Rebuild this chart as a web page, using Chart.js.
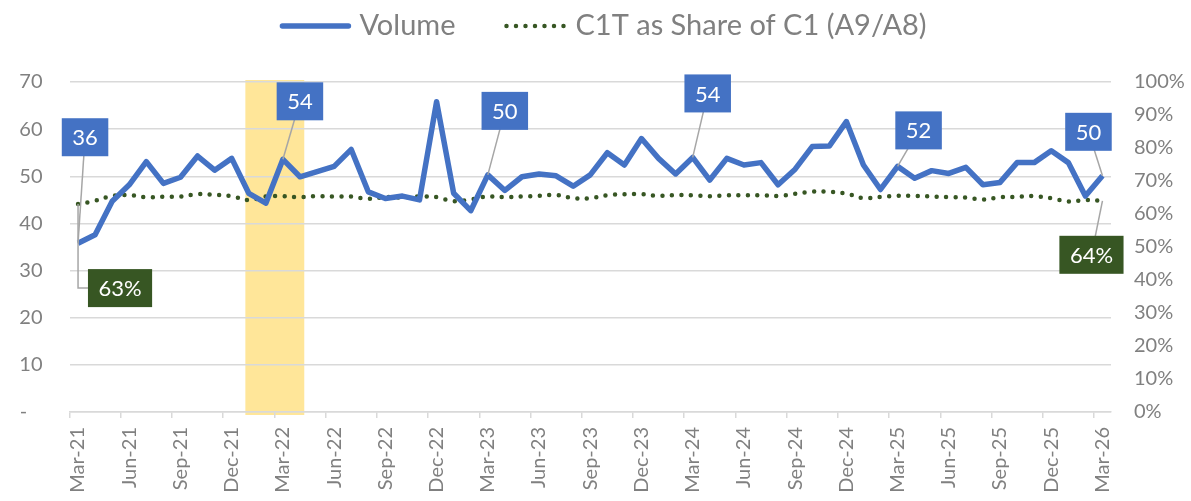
<!DOCTYPE html>
<html>
<head>
<meta charset="utf-8">
<script src="https://cdn.jsdelivr.net/npm/chart.js@4.4.1/dist/chart.umd.min.js"></script>
<style>
  html, body { margin: 0; padding: 0; background: #ffffff; }
</style>
</head>
<body>
<canvas id="myChart" width="1191" height="501"></canvas>
<script>
// monthly categories, Mar-21 .. Mar-26
const months = [
  'Mar-21','Apr-21','May-21','Jun-21','Jul-21','Aug-21','Sep-21','Oct-21','Nov-21','Dec-21','Jan-22','Feb-22',
  'Mar-22','Apr-22','May-22','Jun-22','Jul-22','Aug-22','Sep-22','Oct-22','Nov-22','Dec-22','Jan-23','Feb-23',
  'Mar-23','Apr-23','May-23','Jun-23','Jul-23','Aug-23','Sep-23','Oct-23','Nov-23','Dec-23','Jan-24','Feb-24',
  'Mar-24','Apr-24','May-24','Jun-24','Jul-24','Aug-24','Sep-24','Oct-24','Nov-24','Dec-24','Jan-25','Feb-25',
  'Mar-25','Apr-25','May-25','Jun-25','Jul-25','Aug-25','Sep-25','Oct-25','Nov-25','Dec-25','Jan-26','Feb-26',
  'Mar-26'
];

const volume = [
  35.8, 37.6, 44.7, 48.2, 53.1, 48.5, 49.8, 54.3, 51.3, 53.8, 46.4, 44.3,
  53.6, 49.9, 51.0, 52.1, 55.7, 46.7, 45.3, 45.8, 45.0, 65.8, 46.4, 42.7,
  50.3, 47.0, 49.9, 50.5, 50.1, 47.9, 50.3, 55.0, 52.4, 58.0, 53.8, 50.5,
  54.0, 49.2, 53.8, 52.4, 52.9, 48.2, 51.5, 56.3, 56.4, 61.6, 52.4, 47.2,
  52.1, 49.6, 51.2, 50.6, 51.9, 48.2, 48.7, 52.9, 52.9, 55.4, 52.9, 45.8,
  50.1
];

// C1T as share of C1, in percent
const share = [
  63.0, 64.0, 65.5, 65.7, 65.1, 65.2, 65.3, 66.0, 65.8, 65.4, 64.2, 65.3,
  65.4, 65.1, 65.4, 65.3, 65.3, 64.6, 65.1, 65.0, 65.3, 65.1, 63.9, 64.4,
  65.3, 65.1, 65.3, 65.5, 65.8, 64.8, 64.8, 65.7, 66.0, 66.0, 65.5, 65.7,
  65.7, 65.4, 65.7, 65.7, 65.7, 65.5, 66.1, 66.8, 66.7, 66.2, 64.8, 65.2,
  65.5, 65.5, 65.3, 65.1, 65.0, 64.4, 65.1, 65.2, 65.4, 64.8, 63.8, 64.2,
  64.0
];

const volumeTicks = [0, 10, 20, 30, 40, 50, 60, 70];
const shareTicks = [0, 10, 20, 30, 40, 50, 60, 70, 80, 90, 100];

// shaded period
const highlight = ['Jan-22', 'Apr-22'];

const seriesNames = ['Volume', 'C1T as Share of C1 (A9/A8)'];

// labelled points: dataset, index, and where the box sits relative to the point
const callouts = [
  { set: 0, index: 0,  dx: 7,   dy: -106 },
  { set: 0, index: 12, dx: 17,  dy: -58 },
  { set: 0, index: 24, dx: 17,  dy: -64 },
  { set: 0, index: 36, dx: 15,  dy: -64 },
  { set: 0, index: 48, dx: 21,  dy: -36 },
  { set: 0, index: 60, dx: -14, dy: -44 },
  { set: 1, index: 0,  dx: 42,  dy: 84, elbow: true },
  { set: 1, index: 60, dx: -11, dy: 54 }
];

const blue = '#4472C4';
const green = '#375623';
const grey = '#808080';
const gridGrey = '#D9D9D9';
const fontFamily = 'Lato, Carlito, Calibri, sans-serif';

const extras = {
  id: 'extras',
  beforeDraw(chart) {
    const ctx = chart.ctx;
    const x = chart.scales.x;
    const area = chart.chartArea;
    const slot = x.getPixelForValue(1) - x.getPixelForValue(0);
    const left = x.getPixelForValue(months.indexOf(highlight[0])) - slot * 0.2;
    const right = x.getPixelForValue(months.indexOf(highlight[1])) + slot * 0.25;
    ctx.save();
    ctx.fillStyle = '#FFE699';
    ctx.fillRect(left, area.top - 2, right - left, area.bottom - area.top + 5);
    ctx.restore();
  },
  afterDatasetsDraw(chart) {
    const ctx = chart.ctx;
    ctx.save();
    ctx.font = '22px ' + fontFamily;
    ctx.textAlign = 'center';
    ctx.textBaseline = 'middle';
    callouts.forEach(function (c) {
      const pt = chart.getDatasetMeta(c.set).data[c.index];
      const value = chart.data.datasets[c.set].data[c.index];
      const text = Math.round(value) + (c.set === 1 ? '%' : '');
      const cx = pt.x + c.dx;
      const cy = pt.y + c.dy;
      const w = ctx.measureText(text).width + 21;
      const h = 38;

      ctx.strokeStyle = '#A6A6A6';
      ctx.lineWidth = 1.5;
      ctx.beginPath();
      ctx.moveTo(pt.x, pt.y);
      if (c.elbow) {
        ctx.lineTo(pt.x, cy);
      }
      ctx.lineTo(cx, cy);
      ctx.stroke();

      ctx.fillStyle = c.set === 0 ? blue : green;
      ctx.fillRect(cx - w / 2, cy - h / 2, w, h);
      ctx.fillStyle = '#ffffff';
      ctx.fillText(text, cx, cy + 1);
    });
    ctx.restore();
  },
  afterDraw(chart) {
    // legend: line samples followed by the series names
    const ctx = chart.ctx;
    const sets = chart.data.datasets;
    const sample = [72, 64];
    const gapText = 8;
    const gapItem = 48;
    ctx.save();
    ctx.font = '29px ' + fontFamily;
    const widths = sets.map(d => ctx.measureText(d.label).width);
    const total = sample[0] + gapText + widths[0] + gapItem + sample[1] + gapText + widths[1];
    let x = 603 - total / 2;
    const y = 26;
    sets.forEach(function (d, i) {
      ctx.strokeStyle = d.borderColor;
      ctx.lineWidth = d.borderWidth;
      ctx.lineCap = 'round';
      ctx.setLineDash(d.borderDash || []);
      ctx.beginPath();
      ctx.moveTo(x + 3, y);
      ctx.lineTo(x + sample[i] - 3, y);
      ctx.stroke();
      ctx.setLineDash([]);
      x += sample[i] + gapText;
      ctx.fillStyle = grey;
      ctx.textAlign = 'left';
      ctx.textBaseline = 'middle';
      ctx.fillText(d.label, x, y);
      x += widths[i] + gapItem;
    });
    ctx.restore();
  }
};

const ctx = document.getElementById('myChart').getContext('2d');

const chart = new Chart(ctx, {
  type: 'line',
  data: {
    labels: months,
    datasets: [
      {
        label: seriesNames[0],
        data: volume,
        yAxisID: 'y',
        borderColor: blue,
        backgroundColor: blue,
        borderWidth: 5.5,
        borderJoinStyle: 'round',
        pointRadius: 0,
        tension: 0
      },
      {
        label: seriesNames[1],
        data: share,
        yAxisID: 'y1',
        borderColor: green,
        backgroundColor: green,
        borderWidth: 4.5,
        borderDash: [0, 9.5],
        borderCapStyle: 'round',
        pointRadius: 0,
        tension: 0.4
      }
    ]
  },
  options: {
    responsive: false,
    animation: false,
    layout: { padding: { top: 82, left: 0, right: 0, bottom: 0 } },
    plugins: {
      legend: { display: false },
      tooltip: { enabled: false }
    },
    scales: {
      x: {
        type: 'category',
        offset: true,
        grid: {
          display: true,
          offset: true,
          drawOnChartArea: false,
          drawTicks: true,
          tickLength: 6,
          lineWidth: 1.5,
          color: gridGrey,
          tickColor: c => (c.index % 3 === 0 && c.index < months.length) ? gridGrey : 'rgba(0,0,0,0)'
        },
        border: { display: true, color: gridGrey, width: 1.5 },
        ticks: {
          autoSkip: false,
          maxRotation: 90,
          minRotation: 90,
          padding: 9,
          color: grey,
          font: { family: fontFamily, size: 20 },
          callback: function (v, i) { return i % 3 === 0 ? months[i] : ''; }
        },
        afterFit: s => { s.height = 89; }
      },
      y: {
        position: 'left',
        min: volumeTicks[0],
        max: volumeTicks[volumeTicks.length - 1],
        afterBuildTicks: s => { s.ticks = volumeTicks.map(v => ({ value: v })); },
        grid: { color: gridGrey, lineWidth: 1.5, drawTicks: false },
        border: { display: false },
        ticks: {
          padding: 27,
          color: grey,
          font: { family: fontFamily, size: 20 },
          callback: v => v === 0 ? '-   ' : v
        },
        afterFit: s => { s.width = 69.5; }
      },
      y1: {
        position: 'right',
        min: shareTicks[0],
        max: shareTicks[shareTicks.length - 1],
        afterBuildTicks: s => { s.ticks = shareTicks.map(v => ({ value: v })); },
        grid: { drawOnChartArea: false, drawTicks: false },
        border: { display: false },
        ticks: {
          padding: 23,
          color: grey,
          font: { family: fontFamily, size: 20 },
          callback: v => v + '%'
        },
        afterFit: s => { s.width = 80; }
      }
    }
  },
  plugins: [extras]
});
</script>
</body>
</html>
